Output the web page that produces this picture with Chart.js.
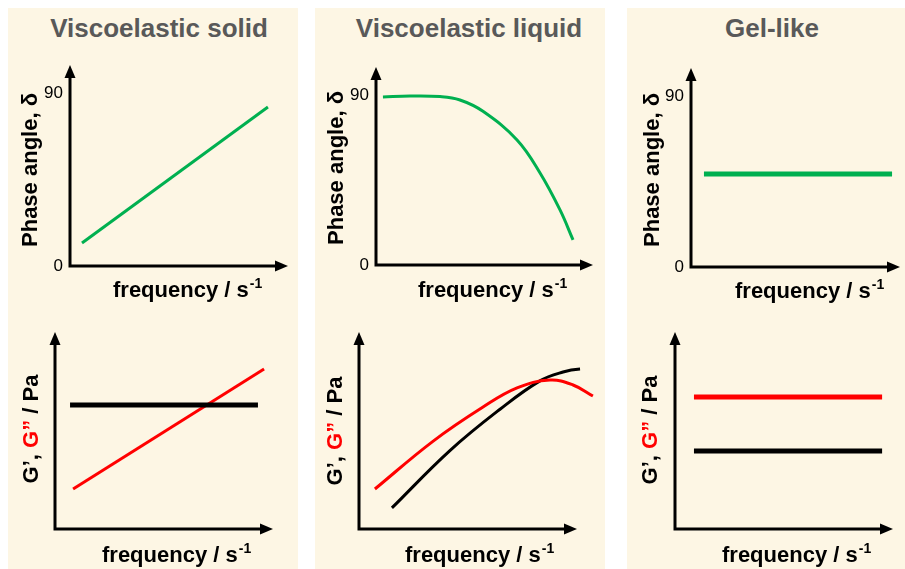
<!DOCTYPE html>
<html>
<head>
<meta charset="utf-8">
<script src="https://cdn.jsdelivr.net/npm/chart.js@4.4.0/dist/chart.umd.min.js"></script>
<style>
html, body { margin: 0; padding: 0; background: #fff; width: 905px; height: 569px; overflow: hidden; font-family: "Liberation Sans", Arial, sans-serif; }
.panel { position: absolute; top: 8px; height: 561px; background: #fdf6e4; }
.title { position: absolute; top: 15px; line-height: 26px; font-size: 26px; font-weight: bold; color: #595959; white-space: nowrap; transform: translateX(-50%); }
canvas { position: absolute; }
</style>
</head>
<body>
<div class="panel" style="left:8px;width:290px"></div>
<div class="panel" style="left:315px;width:290px"></div>
<div class="panel" style="left:627px;width:278px"></div>
<div class="title" style="left:159px">Viscoelastic solid</div>
<div class="title" style="left:469px">Viscoelastic liquid</div>
<div class="title" style="left:772px">Gel-like</div>
<canvas id="c1"></canvas>
<canvas id="c2"></canvas>
<canvas id="c3"></canvas>
<canvas id="c4"></canvas>
<canvas id="c5"></canvas>
<canvas id="c6"></canvas>
<script>
'use strict';

// panel titles / axis text
var phaseTitle = [['Phase angle, \u03b4', '#000']]
var modTitle = [['G\u2019, ', '#000'], ['G\u201d', '#ff0000'], [' / Pa', '#000']]
var freqTitle = 'frequency / s'
var phaseTicks = [0, 90]

// viscoelastic solid: phase angle and moduli (x: frequency, 0..100 arbitrary)
var solidFreq = [5.5, 90.8]
var solidPhase = [12, 83.1]
var solidGpFreq = [6.9, 93.1]
var solidGp = [62.9, 62.9]
var solidGppFreq = [8.3, 95.9]
var solidGpp = [20.3, 81.2]

// viscoelastic liquid
var liquidFreq = [3.2, 15.7, 29.5, 38.7, 49.3, 65.0, 75.6, 84.8, 90.8]
var liquidPhase = [89.1, 89.6, 89.3, 87.5, 81.5, 66.3, 48.8, 29.2, 13.3]
var liquidGppFreq = [7.3, 33.9, 56.9, 72.5, 87.6, 98.2, 107.3]
var liquidGpp = [20.3, 44.5, 61.9, 71.6, 75.6, 73.1, 67.5]
var liquidGpFreq = [15.1, 41.7, 64.7, 83.0, 93.6, 101.4, 106.4]
var liquidGp = [10.7, 39.8, 60.8, 75.2, 79.7, 81.2, 80.7]

// gel-like
var gelFreq = [6.2, 96.2]
var gelPhase = [49.1, 49.1]
var gelModFreq = [8.7, 95.0]
var gelGpp = [67.0, 67.0]
var gelGp = [39.6, 39.6]

const GREEN = '#00b050', RED = '#ff0000', BLACK = '#000000'
const FONT = '"Liberation Sans", Arial, sans-serif'

function pts(xs, ys) {
	return xs.map((x, i) => ({x: x, y: ys[i]}))
}

const arrowAxes = {
	id: 'arrowAxes',
	beforeDatasetsDraw(chart, args, o) {
		var a = chart.chartArea, ctx = chart.ctx
		ctx.save()
		ctx.strokeStyle = '#000'
		ctx.fillStyle = '#000'
		ctx.lineWidth = 3
		ctx.lineJoin = 'miter'
		ctx.beginPath()
		ctx.moveTo(a.left, a.top + 10)
		ctx.lineTo(a.left, a.bottom)
		ctx.lineTo(a.right - 10, a.bottom)
		ctx.stroke()
		ctx.beginPath()
		ctx.moveTo(a.left, a.top)
		ctx.lineTo(a.left - 5.5, a.top + 13)
		ctx.lineTo(a.left + 5.5, a.top + 13)
		ctx.closePath()
		ctx.fill()
		ctx.beginPath()
		ctx.moveTo(a.right, a.bottom)
		ctx.lineTo(a.right - 13, a.bottom - 5.5)
		ctx.lineTo(a.right - 13, a.bottom + 5.5)
		ctx.closePath()
		ctx.fill()

		// tick labels
		if (o.ticks) {
			ctx.font = '17px ' + FONT
			ctx.textAlign = 'right'
			ctx.textBaseline = 'middle'
			o.ticks.forEach((v) => {
				ctx.fillText(String(v), a.left - 7, chart.scales.y.getPixelForValue(v))
			})
		}

		// x title with superscript
		ctx.textAlign = 'left'
		ctx.textBaseline = 'alphabetic'
		ctx.font = 'bold 22px ' + FONT
		ctx.fillText(freqTitle, o.xAt[0], o.xAt[1])
		var w = ctx.measureText(freqTitle).width
		ctx.font = 'bold 14px ' + FONT
		ctx.fillText('-1', o.xAt[0] + w + 1, o.xAt[1] - 9)

		// y title, rotated, may have coloured parts
		ctx.translate(o.yAt[0], o.yAt[1])
		ctx.rotate(-Math.PI / 2)
		ctx.font = 'bold 22px ' + FONT
		ctx.textBaseline = 'middle'
		var total = o.yTitle.reduce((s, p) => s + ctx.measureText(p[0]).width, 0)
		var x = -total / 2
		o.yTitle.forEach((p) => {
			ctx.fillStyle = p[1]
			ctx.fillText(p[0], x, 0)
			x += ctx.measureText(p[0]).width
		})
		ctx.restore()
	}
}

// rect: canvas left, top, width, height; area: axis left, arrow top, arrow right, axis bottom (page px)
function makeChart(id, rect, area, yMax, datasets, yTitle, yAt, xAt, ticks) {
	var cv = document.getElementById(id)
	cv.style.left = rect[0] + 'px'
	cv.style.top = rect[1] + 'px'
	cv.width = rect[2]
	cv.height = rect[3]
	return new Chart(cv.getContext('2d'), {
		type: 'line',
		data: {datasets: datasets},
		options: {
			responsive: false,
			animation: false,
			devicePixelRatio: 1,
			layout: {padding: {
				left: area[0] - rect[0],
				top: area[1] - rect[1],
				right: rect[0] + rect[2] - area[2],
				bottom: rect[1] + rect[3] - area[3]
			}},
			elements: {point: {radius: 0}},
			plugins: {
				legend: {display: false},
				tooltip: {enabled: false},
				arrowAxes: {
					ticks: ticks,
					yTitle: yTitle,
					yAt: [yAt[0] - rect[0], yAt[1] - rect[1]],
					xAt: [xAt[0] - rect[0], xAt[1] - rect[1]]
				}
			},
			scales: {
				x: {type: 'linear', display: false, min: 0, max: 100},
				y: {type: 'linear', display: false, min: 0, max: yMax}
			}
		},
		plugins: [arrowAxes]
	})
}

function line(xs, ys, color, width, smooth) {
	return {
		data: pts(xs, ys),
		borderColor: color,
		borderWidth: width,
		fill: false,
		clip: false,
		tension: smooth ? 0.4 : 0
	}
}

makeChart('c1', [8, 45, 290, 265], [70, 65, 288, 266], 105,
	[line(solidFreq, solidPhase, GREEN, 3)],
	phaseTitle, [31, 170], [113, 297], phaseTicks)
makeChart('c2', [315, 45, 290, 265], [376, 67, 593, 265], 105,
	[line(liquidFreq, liquidPhase, GREEN, 3, true)],
	phaseTitle, [337, 168], [418, 297], phaseTicks)
makeChart('c3', [627, 45, 278, 265], [691, 68, 900, 267], 105,
	[line(gelFreq, gelPhase, GREEN, 5)],
	phaseTitle, [653, 170], [735, 298], phaseTicks)

makeChart('c4', [8, 310, 290, 259], [55, 332, 273, 529], 100,
	[line(solidGpFreq, solidGp, BLACK, 5), line(solidGppFreq, solidGpp, RED, 3)],
	modTitle, [32, 429], [102, 562], null)
makeChart('c5', [315, 310, 290, 259], [359, 332, 577, 529], 100,
	[line(liquidGppFreq, liquidGpp, RED, 3, true), line(liquidGpFreq, liquidGp, BLACK, 3, true)],
	modTitle, [336, 431], [405, 562], null)
makeChart('c6', [627, 310, 278, 259], [675, 332, 893, 529], 100,
	[line(gelModFreq, gelGpp, RED, 5), line(gelModFreq, gelGp, BLACK, 5)],
	modTitle, [651, 430], [722, 562], null)
</script>
</body>
</html>
